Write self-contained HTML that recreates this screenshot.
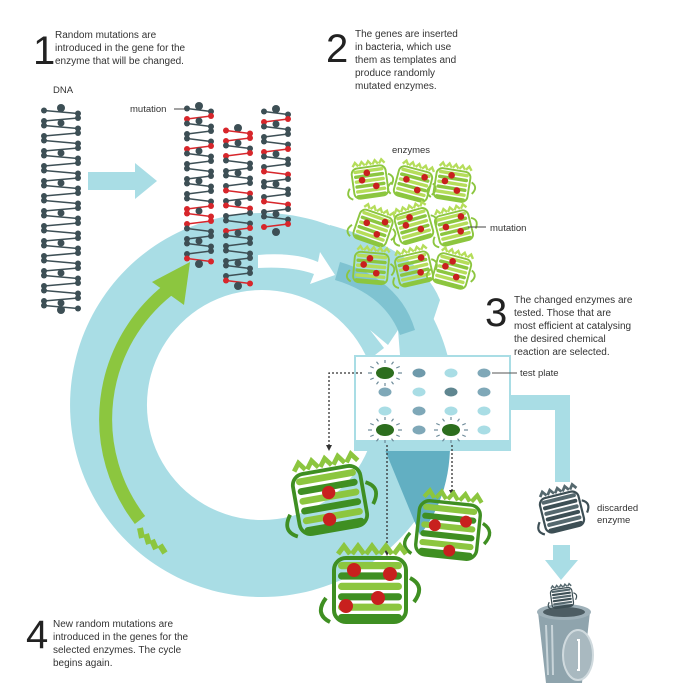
<!DOCTYPE html>
<html><head><meta charset="utf-8"><style>
html,body{margin:0;padding:0;background:#fff}
svg{display:block}
text{font-family:"Liberation Sans",sans-serif;fill:#333}
</style></head><body>
<svg id="s" width="680" height="688" viewBox="0 0 680 688" xmlns="http://www.w3.org/2000/svg">
<rect width="680" height="688" fill="#fff"/>
<path fill="#a9dde5" fill-rule="evenodd" d="M262,213 a192,192 0 1,0 0.1,0 Z M262,290 a115,115 0 1,1 -0.1,0 Z"/>
<path fill="#a9dde5" d="M330,225 Q420,250 440,300 L420,360 L395,360 Q380,300 330,270 Z"/>
<path fill="#7fc3d1" d="M340,262 Q400,280 415,330 L400,335 Q385,295 335,280 Z"/>
<path fill="#62afc2" d="M385,450 L450,450 Q448,500 420,535 Z"/>
<path fill="#fff" d="M258,255 Q295,252 318,262 L320,252 L335,275 L310,284 L314,274 Q292,266 258,268 Z"/>
<path fill="#fff" d="M370,330 L388,345 L398,330 L400,355 L375,355 L384,348 Z"/>
<path fill="none" stroke="#8cc63f" stroke-width="13" d="M140,520 A165,165 0 0,1 168,290"/>
<path fill="#8cc63f" d="M152,282 L190,262 L184,305 Z"/>
<g stroke="#8cc63f" stroke-width="6"><line x1="140" y1="528" x2="142" y2="538"/><line x1="146" y1="534" x2="149" y2="544"/><line x1="152" y1="540" x2="156" y2="549"/><line x1="160" y1="545" x2="165" y2="553"/></g>
<path fill="#a9dde5" d="M88,172 L135,172 L135,163 L157,181 L135,199 L135,190 L88,190 Z"/>
<path fill="#a9dde5" d="M500,395 L570,395 L570,482 L555,482 L555,410 L500,410 Z"/>
<rect x="355" y="356" width="155" height="94" fill="#fff" stroke="#a9dde5" stroke-width="2"/>
<rect x="355" y="440" width="155" height="10" fill="#a9dde5"/>
<g id="dots"></g>
<g stroke="#333" stroke-width="1.3" stroke-dasharray="2,2" fill="none">
<path d="M362,373 L329,373 L329,445"/><path d="M387,445 L387,550"/><path d="M452,445 L452,490"/>
</g>
<g fill="#333"><path d="M326,445 L332,445 L329,451Z"/><path d="M384,550 L390,550 L387,556Z"/><path d="M449,490 L455,490 L452,496Z"/></g>
<path fill="#a9dde5" d="M553,545 L570,545 L570,560 L578,560 L561,580 L545,560 L553,560 Z"/>
<path fill="#8fa4ad" d="M538,612 L590,612 L582,683 L546,683 Z"/>
<ellipse cx="564" cy="612" rx="27" ry="8" fill="#9fb1b9"/>
<ellipse cx="564" cy="612" rx="21" ry="5" fill="#4d5d63"/>
<g stroke="#c8d4d9" stroke-width="2"><line x1="546" y1="625" x2="548" y2="675"/><line x1="552" y1="625" x2="553" y2="675"/></g>
<ellipse cx="578" cy="655" rx="15" ry="25" fill="#a9b9c0" stroke="#d0dade" stroke-width="2"/>
<path d="M577,640 L579,640 L579,670 L577,670" stroke="#fff" fill="none" stroke-width="2"/>
<g id="gen"></g>
<text x="33" y="64" font-size="40" style="fill:#222">1</text>
<text font-size="10"><tspan x="55" y="38">Random mutations are</tspan><tspan x="55" y="51">introduced in the gene for the</tspan><tspan x="55" y="64">enzyme that will be changed.</tspan></text>
<text x="326" y="62" font-size="40" style="fill:#222">2</text>
<text font-size="10"><tspan x="355" y="37">The genes are inserted</tspan><tspan x="355" y="50">in bacteria, which use</tspan><tspan x="355" y="63">them as templates and</tspan><tspan x="355" y="76">produce randomly</tspan><tspan x="355" y="89">mutated enzymes.</tspan></text>
<text x="53" y="93" font-size="9.5">DNA</text>
<text x="130" y="112" font-size="9.5">mutation</text>
<line x1="174" y1="109" x2="186" y2="109" stroke="#444"/>
<text x="392" y="153" font-size="9.5">enzymes</text>
<text x="490" y="231" font-size="9.5">mutation</text>
<line x1="468" y1="227" x2="486" y2="227" stroke="#444"/>
<text x="485" y="326" font-size="40" style="fill:#222">3</text>
<text font-size="10"><tspan x="514" y="303">The changed enzymes are</tspan><tspan x="514" y="316">tested. Those that are</tspan><tspan x="514" y="329">most efficient at catalysing</tspan><tspan x="514" y="342">the desired chemical</tspan><tspan x="514" y="355">reaction are selected.</tspan></text>
<text x="520" y="376" font-size="9.5">test plate</text>
<line x1="492" y1="373" x2="517" y2="373" stroke="#555"/>
<text font-size="9.5"><tspan x="597" y="511">discarded</tspan><tspan x="597" y="523">enzyme</tspan></text>
<text x="26" y="648" font-size="40" style="fill:#222">4</text>
<text font-size="10"><tspan x="53" y="627">New random mutations are</tspan><tspan x="53" y="640">introduced in the genes for the</tspan><tspan x="53" y="653">selected enzymes. The cycle</tspan><tspan x="53" y="666">begins again.</tspan></text>
</svg>
<script>
var NS="http://www.w3.org/2000/svg",g=document.getElementById("gen"),d=document.getElementById("dots");
function el(p,t,a){var e=document.createElementNS(NS,t);for(var k in a)e.setAttribute(k,a[k]);p.appendChild(e);return e;}
function dna(x,y0,y1,w,red){var c="#3d4f55",i=0;el(g,"circle",{cx:x+w/2,cy:y0-4,r:4,fill:c});
for(var y=y0;y<y1;y+=7.5,i++){var col=red.indexOf(i)>=0?"#d7262b":c;var s=(i%2)?1:-1;
el(g,"line",{x1:x+2,y1:y+s*1.5,x2:x+w-2,y2:y-s*1.5,stroke:col,"stroke-width":1.6});
el(g,"circle",{cx:x+2,cy:y+s*1.5,r:3,fill:col});el(g,"circle",{cx:x+w-2,cy:y-s*1.5,r:3,fill:col});
if(i%4==1)el(g,"circle",{cx:x+w/2,cy:y+3.5,r:3.5,fill:c});}
el(g,"circle",{cx:x+w/2,cy:y1+2,r:4,fill:c});}
dna(42,112,308,38,[]);
dna(185,110,262,28,[1,5,13,14,15,20]);
dna(224,132,284,28,[0,1,3,8,10,13,20]);
dna(262,113,230,28,[1,5,8,12,15,16]);
function enz(cx,cy,s,c1,c2,reds){var gg=el(g,"g",{transform:"translate("+cx+","+cy+") rotate("+(((cx*7+cy)%40)-20)+") scale("+s+")"});
el(gg,"rect",{x:-18,y:-16,width:36,height:32,rx:6,fill:"none",stroke:c1,"stroke-width":2});
el(gg,"path",{d:"M-22,4 q-6,8 2,12 M20,-6 q8,4 2,12",stroke:c1,"stroke-width":2,fill:"none"});
for(var i=0;i<6;i++)el(gg,"rect",{x:-16,y:-14+i*5.2,width:32,height:3.6,rx:1.8,fill:i%2?c1:c2});
for(var i=0;i<5;i++)el(gg,"path",{d:"M"+(-16+i*7)+",-18 l3,-4 l3,4",stroke:c2,"stroke-width":2.5,fill:"none"});
reds.forEach(function(r){el(gg,"circle",{cx:r[0],cy:r[1],r:3.5,fill:"#c8201e"});});}
var L="#8cc63f",L2="#b5dd5a";
var pos=[[370,182],[413,184],[452,185],[373,228],[414,226],[454,228],[371,268],[414,269],[452,271]];
pos.forEach(function(p,i){enz(p[0],p[1],0.95,L,L2,[[-8,-3],[6,5],[i%2?10:-2,-10]]);});
var D="#3f8f22",D2="#8cc63f";
enz(330,500,1.9,D,D2,[[0,-4],[-2,10]]);
enz(448,530,1.7,D,D2,[[-8,-2],[10,-6],[2,12]]);
enz(370,590,2.0,D,D2,[[-8,-10],[10,-8],[-12,8],[4,4]]);
enz(562,512,1.1,"#3d4f55","#55686e",[]);
enz(562,598,0.6,"#3d4f55","#55686e",[]);
var cols=[["big","#6f9aab","#a9dde5","#7fa8b8"],["#7fa8b8","#a9dde5","#5f8690","#7fa8b8"],["#a9dde5","#7fa8b8","#a9dde5","#a9dde5"],["big","#7fa8b8","big","#a9dde5"]];
var xs=[385,419,451,484],ys=[373,392,411,430];
for(var r=0;r<4;r++)for(var c=0;c<4;c++){var v=cols[r][c],x=xs[c],y=ys[r];
if(v=="big"){el(d,"ellipse",{cx:x,cy:y,rx:9,ry:6,fill:"#2d6e1e"});
for(var a=0;a<12;a++){var t=a*Math.PI/6;el(d,"line",{x1:x+13*Math.cos(t),y1:y+10*Math.sin(t),x2:x+17*Math.cos(t),y2:y+13*Math.sin(t),stroke:"#6d8a99","stroke-width":1.2});}}
else el(d,"ellipse",{cx:x,cy:y,rx:6.5,ry:4.5,fill:v});}
</script>
</body></html>
